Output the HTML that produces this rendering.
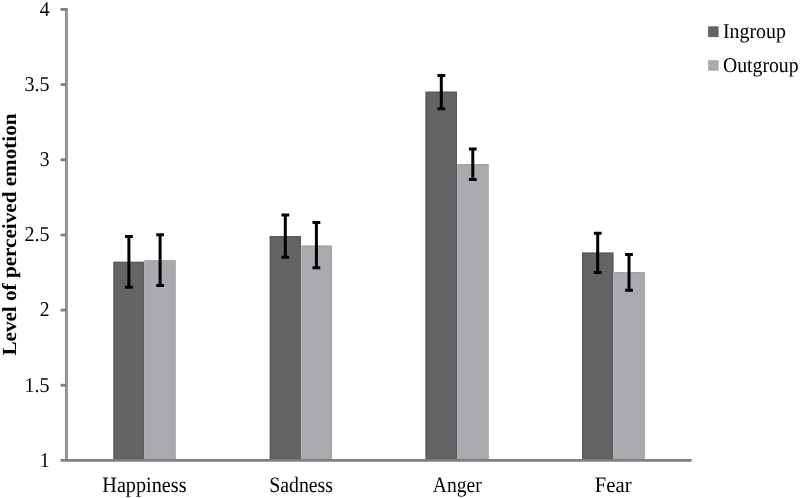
<!DOCTYPE html>
<html><head><meta charset="utf-8">
<style>
html,body{margin:0;padding:0;background:#fff;}
body{width:800px;height:498px;overflow:hidden;position:relative;}
svg{position:absolute;left:0;top:0;will-change:transform;}
text{font-family:"Liberation Serif",serif;fill:#000;text-rendering:geometricPrecision;}
</style></head>
<body>
<svg width="800" height="498" viewBox="0 0 800 498">
<!-- bars -->
<g>
<rect x="113.5" y="261.8" width="30.7" height="198.5" fill="#646466"/>
<rect x="114.1" y="262.4" width="29.5" height="196.5" fill="none" stroke="#58585a" stroke-width="1.2"/>
<rect x="144.2" y="260.2" width="31.4" height="200.1" fill="#a9aaad"/>
<path d="M144.79999999999998 459V260.8" stroke="#b4b4b8" stroke-width="1.2" fill="none"/>
<path d="M145.39999999999998 260.7H175.1V459" stroke="#a2a2a6" stroke-width="1" fill="none"/>
<rect x="269.8" y="236.1" width="31.1" height="224.2" fill="#646466"/>
<rect x="270.4" y="236.7" width="29.9" height="222.2" fill="none" stroke="#58585a" stroke-width="1.2"/>
<rect x="300.9" y="245.6" width="30.9" height="214.7" fill="#a9aaad"/>
<path d="M301.5 459V246.2" stroke="#b4b4b8" stroke-width="1.2" fill="none"/>
<path d="M302.09999999999997 246.1H331.3V459" stroke="#a2a2a6" stroke-width="1" fill="none"/>
<rect x="425.6" y="91.7" width="31.4" height="368.6" fill="#646466"/>
<rect x="426.2" y="92.3" width="30.2" height="366.6" fill="none" stroke="#58585a" stroke-width="1.2"/>
<rect x="457.0" y="164.1" width="31.6" height="296.2" fill="#a9aaad"/>
<path d="M457.6 459V164.7" stroke="#b4b4b8" stroke-width="1.2" fill="none"/>
<path d="M458.2 164.6H488.1V459" stroke="#a2a2a6" stroke-width="1" fill="none"/>
<rect x="582.1" y="252.6" width="31.3" height="207.7" fill="#646466"/>
<rect x="582.7" y="253.2" width="30.1" height="205.7" fill="none" stroke="#58585a" stroke-width="1.2"/>
<rect x="613.4" y="272.0" width="31.3" height="188.3" fill="#a9aaad"/>
<path d="M614.0 459V272.6" stroke="#b4b4b8" stroke-width="1.2" fill="none"/>
<path d="M614.6 272.5H644.2V459" stroke="#a2a2a6" stroke-width="1" fill="none"/>
</g>
<!-- axes -->
<g stroke="#7f7f7f" stroke-width="2.8" fill="none">
<line x1="65.9" y1="8" x2="65.9" y2="460.3" stroke-width="1.6" stroke="#7b7b7f"/>
<line x1="67.3" y1="8.4" x2="67.3" y2="459" stroke-width="1.3" stroke="#939396"/>
<line x1="60.6" y1="460.3" x2="691.6" y2="460.3"/>
<line x1="60.6" y1="9.4" x2="67.4" y2="9.4"/>
<line x1="60.6" y1="84.6" x2="66.5" y2="84.6"/>
<line x1="60.6" y1="159.8" x2="66.5" y2="159.8"/>
<line x1="60.6" y1="235" x2="66.5" y2="235"/>
<line x1="60.6" y1="310.1" x2="66.5" y2="310.1"/>
<line x1="60.6" y1="385.2" x2="66.5" y2="385.2"/>
</g>
<!-- error bars -->
<g stroke="#000" stroke-width="3" fill="none">
<path d="M128.9 236.5V287.3M125 236.5h7.8M125 287.3h7.8"/>
<path d="M160.1 234.8V285.6M156.2 234.8h7.8M156.2 285.6h7.8"/>
<path d="M285.3 215V257.2M281.4 215h7.8M281.4 257.2h7.8"/>
<path d="M316.4 222.6V267.7M312.5 222.6h7.8M312.5 267.7h7.8"/>
<path d="M441.3 75.5V108.8M437.4 75.5h7.8M437.4 108.8h7.8"/>
<path d="M472.8 149V179.5M468.9 149h7.8M468.9 179.5h7.8"/>
<path d="M597.7 233.3V272.4M593.8 233.3h7.8M593.8 272.4h7.8"/>
<path d="M629 254.4V290.2M625.1 254.4h7.8M625.1 290.2h7.8"/>
</g>
<!-- y tick labels -->
<g font-size="21" text-anchor="end">
<text x="49.5" y="15.9" textLength="9.8" lengthAdjust="spacingAndGlyphs">4</text>
<text x="49.5" y="90.9" textLength="25.1" lengthAdjust="spacingAndGlyphs">3.5</text>
<text x="49.5" y="166.1" textLength="9.8" lengthAdjust="spacingAndGlyphs">3</text>
<text x="49.5" y="241.4" textLength="25.1" lengthAdjust="spacingAndGlyphs">2.5</text>
<text x="49.5" y="316.4" textLength="9.8" lengthAdjust="spacingAndGlyphs">2</text>
<text x="49.5" y="391.6" textLength="25.1" lengthAdjust="spacingAndGlyphs">1.5</text>
<text x="49.5" y="466.8" textLength="9.8" lengthAdjust="spacingAndGlyphs">1</text>
</g>
<!-- x labels -->
<g font-size="22" text-anchor="middle">
<text x="144.4" y="491.6" textLength="84.2" lengthAdjust="spacingAndGlyphs">Happiness</text>
<text x="301.1" y="491.6" textLength="63.8" lengthAdjust="spacingAndGlyphs">Sadness</text>
<text x="457.25" y="491.6" textLength="48.95" lengthAdjust="spacingAndGlyphs">Anger</text>
<text x="613.2" y="491.6" textLength="36.7" lengthAdjust="spacingAndGlyphs">Fear</text>
</g>
<!-- y title -->
<text font-size="20" font-weight="bold" transform="translate(15.8,355.6) rotate(-90)" textLength="242.1" lengthAdjust="spacingAndGlyphs">Level of perceived emotion</text>
<!-- legend -->
<rect x="708.1" y="26.3" width="10.5" height="10.8" fill="#646466"/>
<rect x="708.1" y="60.2" width="10.5" height="10.5" fill="#a9aaad"/>
<g font-size="21">
<text x="723" y="38.1" textLength="62.9" lengthAdjust="spacingAndGlyphs">Ingroup</text>
<text x="723" y="71.9" textLength="75.6" lengthAdjust="spacingAndGlyphs">Outgroup</text>
</g>
</svg>
</body></html>
